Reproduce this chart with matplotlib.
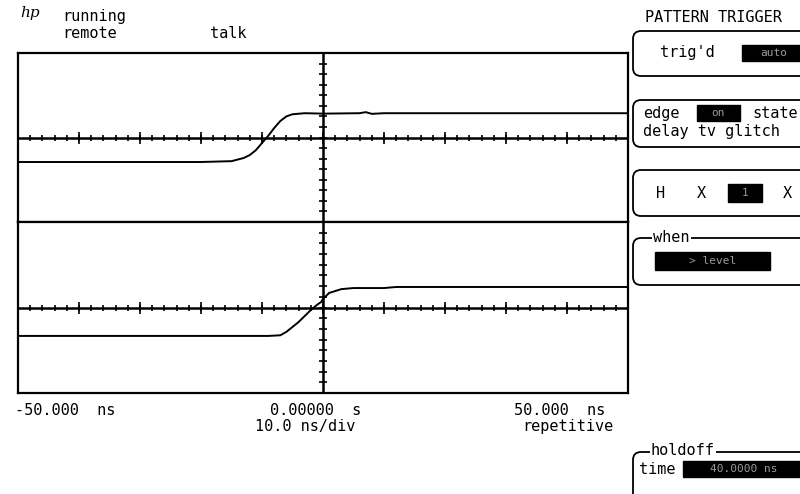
import numpy as np
import matplotlib.pyplot as plt
from matplotlib.patches import FancyBboxPatch, Rectangle

# scope traces: time in ns, level in divisions from the channel centre line
ch1_t = [-50, -20, -15, -13, -12, -11, -10, -9, -8, -7, -6, -5, -3, 0, 6, 7, 8, 10, 50]
ch1_v = [-1.16, -1.16, -1.12, -0.97, -0.83, -0.6, -0.26, 0.07, 0.45, 0.78, 1.0, 1.1,
         1.15, 1.13, 1.15, 1.2, 1.12, 1.15, 1.15]

ch2_t = [-50, -9, -7, -6, -5, -4, -3, -2, -1, -0.3, 0, 1, 2, 3, 5, 10, 12, 50]
ch2_v = [-1.33, -1.33, -1.3, -1.14, -0.91, -0.68, -0.4, -0.12, 0.12, 0.26, 0.4, 0.68,
         0.77, 0.86, 0.91, 0.91, 0.96, 0.96]

x_labels = ["-50.000  ns", "0.00000  s", "50.000  ns"]
status = ["running", "remote", "talk"]

MONO = "DejaVu Sans Mono"
FS = 11

fig = plt.figure(figsize=(8, 4.94), dpi=100)
W, H = 800, 494


def px_axes(x0, y0, x1, y1):
    return fig.add_axes([x0 / W, 1 - y1 / H, (x1 - x0) / W, (y1 - y0) / H])


def graticule(ax, t, v):
    ax.set_xlim(-50, 50)
    ax.set_ylim(-4, 4)
    ax.set_xticks([])
    ax.set_yticks([])
    for s in ax.spines.values():
        s.set_linewidth(1.6)
        s.set_color("black")
    ax.axhline(0, color="black", lw=1.8)
    ax.axvline(0, color="black", lw=1.8)
    minor = np.arange(-50, 51, 2)
    major = np.arange(-50, 51, 10)
    ax.plot(minor, np.zeros_like(minor), "|", color="black", ms=4, mew=1.2)
    ax.plot(major, np.zeros_like(major), "|", color="black", ms=8, mew=1.2)
    vt = np.arange(-4, 4.01, 0.5)
    ax.plot(np.zeros_like(vt), vt, "_", color="black", ms=6, mew=1.2)
    ax.plot(t, v, color="black", lw=1.4)


ax1 = px_axes(18, 53, 628, 222)
ax2 = px_axes(18, 222, 628, 393)
graticule(ax1, ch1_t, ch1_v)
graticule(ax2, ch2_t, ch2_v)

# overlay in pixel coordinates for the screen annotations
ov = fig.add_axes([0, 0, 1, 1])
ov.set_xlim(0, W)
ov.set_ylim(H, 0)
ov.axis("off")
ov.patch.set_alpha(0)


def txt(x, y, s, color="black", size=FS, **kw):
    ov.text(x, y, s, family=MONO, fontsize=size, color=color, va="center", ha="left", **kw)


def box(x0, y0, x1, y1):
    ov.add_patch(FancyBboxPatch((x0, y0), x1 - x0, y1 - y0,
                                boxstyle="round,pad=0,rounding_size=8",
                                fill=False, lw=1.3, ec="black", clip_on=False))


def inverse(x0, y0, x1, y1, s):
    ov.add_patch(Rectangle((x0, y0), x1 - x0, y1 - y0, color="black", clip_on=False))
    ov.text((x0 + x1) / 2, (y0 + y1) / 2, s, family=MONO, fontsize=8,
            color="#9a9a9a", ha="center", va="center")


ov.text(20, 13, "hp", family="DejaVu Serif", fontstyle="italic", fontsize=11, va="center")
txt(62, 17, status[0])
txt(62, 33, status[1])
txt(210, 33, status[2])

txt(15, 410, x_labels[0])
txt(270, 410, x_labels[1])
txt(514, 410, x_labels[2])
txt(255, 426, "10.0 ns/div")
txt(522, 426, "repetitive")

# right-hand softkey menu
txt(645, 17, "PATTERN TRIGGER")
box(633, 31, 830, 76)
txt(660, 53, "trig'd")
inverse(742, 45, 805, 61, "auto")

box(633, 100, 830, 147)
txt(643, 113, "edge")
inverse(697, 105, 740, 121, "on")
txt(752, 113, "state")
txt(643, 131, "delay tv glitch")

box(633, 170, 830, 216)
txt(656, 193, "H")
txt(697, 193, "X")
inverse(728, 184, 762, 202, "1")
txt(783, 193, "X")

box(633, 238, 830, 285)
txt(653, 237, "when", bbox=dict(fc="white", ec="none", pad=1))
inverse(655, 252, 770, 270, "> level")

box(633, 452, 830, 520)
txt(651, 450, "holdoff", bbox=dict(fc="white", ec="none", pad=1))
txt(639, 469, "time")
inverse(683, 461, 805, 477, "40.0000 ns")

fig.savefig("out.png", dpi=100)
